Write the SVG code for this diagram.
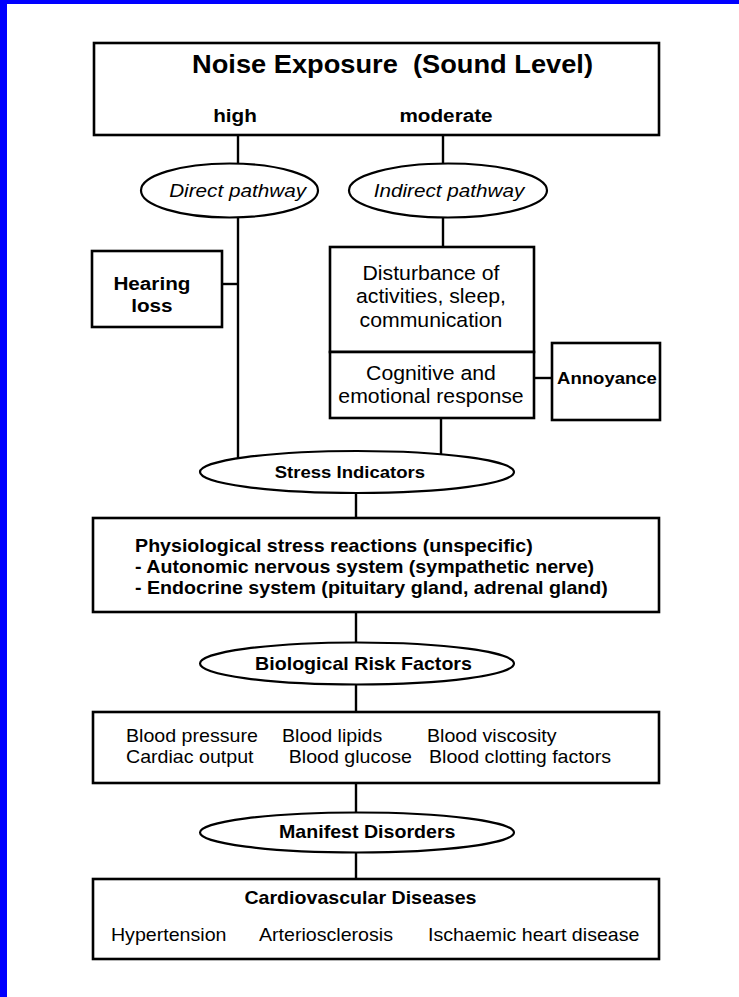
<svg xmlns="http://www.w3.org/2000/svg" width="739" height="997" viewBox="0 0 739 997">
<style>
.box{fill:#fff;stroke:#000;stroke-width:2.6}
.ell{fill:#fff;stroke:#000;stroke-width:2.2}
.con{stroke:#000;stroke-width:2.4;fill:none}
text{font-family:"Liberation Sans",Arial,Helvetica,sans-serif;fill:#000}
.b{font-weight:bold}
.m{text-anchor:middle}
.it{font-style:italic}
</style>
<rect x="0" y="0" width="739" height="997" fill="#fff"/>
<rect x="0" y="0" width="739" height="4" fill="#0000ff"/>
<rect x="0" y="0" width="7" height="997" fill="#0000ff"/>
<g id="connectors">
<line class="con" x1="238" y1="135" x2="238" y2="164"/>
<line class="con" x1="443" y1="135" x2="443" y2="164"/>
<line class="con" x1="238" y1="217" x2="238" y2="459"/>
<line class="con" x1="443" y1="217" x2="443" y2="247"/>
<line class="con" x1="222" y1="284" x2="238" y2="284"/>
<line class="con" x1="534" y1="378" x2="552" y2="378"/>
<line class="con" x1="441" y1="418" x2="441" y2="455"/>
<line class="con" x1="356" y1="492" x2="356" y2="518"/>
<line class="con" x1="356" y1="612" x2="356" y2="643"/>
<line class="con" x1="356" y1="684" x2="356" y2="712"/>
<line class="con" x1="356" y1="783" x2="356" y2="813"/>
<line class="con" x1="356" y1="852" x2="356" y2="879"/>
</g>
<g id="noise-exposure">
<rect class="box" x="94" y="43" width="565" height="92"/>
<text class="b m" font-size="25" x="360.1" y="73" transform="scale(1.09 1)">Noise Exposure&#160; (Sound Level)</text>
<text class="b m" font-size="19" x="215.6" y="122" transform="scale(1.09 1)">high</text>
<text class="b m" font-size="19" x="409.2" y="122" transform="scale(1.09 1)">moderate</text>
</g>
<g id="direct-pathway">
<ellipse class="ell" cx="229.5" cy="190.5" rx="88.5" ry="27"/>
<text class="it m" font-size="19" x="218" y="197" transform="scale(1.09 1)">Direct pathway</text>
</g>
<g id="indirect-pathway">
<ellipse class="ell" cx="448" cy="190.5" rx="99" ry="27"/>
<text class="it m" font-size="19" x="412" y="197" transform="scale(1.09 1)">Indirect pathway</text>
</g>
<g id="hearing-loss">
<rect class="box" x="92" y="251" width="130" height="76"/>
<text class="b m" font-size="19" x="139.4" y="290" transform="scale(1.09 1)">Hearing</text>
<text class="b m" font-size="19" x="139.4" y="312" transform="scale(1.09 1)">loss</text>
</g>
<g id="disturbance">
<rect class="box" x="330" y="247" width="204" height="105"/>
<text class="m" font-size="19.5" x="395.4" y="280" transform="scale(1.09 1)">Disturbance of</text>
<text class="m" font-size="19.5" x="395.4" y="303.5" transform="scale(1.09 1)">activities, sleep,</text>
<text class="m" font-size="19.5" x="395.4" y="327" transform="scale(1.09 1)">communication</text>
</g>
<g id="cognitive">
<rect class="box" x="330" y="352" width="204" height="66"/>
<text class="m" font-size="19.5" x="395.4" y="380" transform="scale(1.09 1)">Cognitive and</text>
<text class="m" font-size="19.5" x="395.4" y="403" transform="scale(1.09 1)">emotional response</text>
</g>
<g id="annoyance">
<rect class="box" x="552" y="343" width="108" height="77"/>
<text class="b m" font-size="17" x="556.9" y="384" transform="scale(1.09 1)">Annoyance</text>
</g>
<g id="stress-indicators">
<ellipse class="ell" cx="357" cy="472" rx="157" ry="21"/>
<text class="b m" font-size="17" x="321" y="478" transform="scale(1.09 1)">Stress Indicators</text>
</g>
<g id="physiological">
<rect class="box" x="93" y="518" width="566" height="94"/>
<text class="b" font-size="18" x="123.9" y="552" transform="scale(1.09 1)">Physiological stress reactions (unspecific)</text>
<text class="b" font-size="18" x="123.9" y="573" transform="scale(1.09 1)">- Autonomic nervous system (sympathetic nerve)</text>
<text class="b" font-size="18" x="123.9" y="594" transform="scale(1.09 1)">- Endocrine system (pituitary gland, adrenal gland)</text>
</g>
<g id="biological-risk-factors">
<ellipse class="ell" cx="357" cy="663.5" rx="157" ry="21"/>
<text class="b m" font-size="18" x="333.5" y="670" transform="scale(1.09 1)">Biological Risk Factors</text>
</g>
<g id="blood">
<rect class="box" x="93" y="712" width="566" height="71"/>
<text font-size="18" x="115.6" y="742" transform="scale(1.09 1)">Blood pressure</text>
<text font-size="18" x="258.7" y="742" transform="scale(1.09 1)">Blood lipids</text>
<text font-size="18" x="391.7" y="742" transform="scale(1.09 1)">Blood viscosity</text>
<text font-size="18" x="115.6" y="763" transform="scale(1.09 1)">Cardiac output</text>
<text font-size="18" x="264.9" y="763" transform="scale(1.09 1)">Blood glucose</text>
<text font-size="18" x="393.6" y="763" transform="scale(1.09 1)">Blood clotting factors</text>
</g>
<g id="manifest-disorders">
<ellipse class="ell" cx="357" cy="832.5" rx="157" ry="20"/>
<text class="b m" font-size="18" x="336.9" y="838" transform="scale(1.09 1)">Manifest Disorders</text>
</g>
<g id="cardiovascular">
<rect class="box" x="93" y="879" width="566" height="80"/>
<text class="b m" font-size="18" x="330.7" y="904" transform="scale(1.09 1)">Cardiovascular Diseases</text>
<text font-size="18" x="101.8" y="941" transform="scale(1.09 1)">Hypertension</text>
<text font-size="18" x="237.6" y="941" transform="scale(1.09 1)">Arteriosclerosis</text>
<text font-size="18" x="392.7" y="941" transform="scale(1.09 1)">Ischaemic heart disease</text>
</g>
</svg>
